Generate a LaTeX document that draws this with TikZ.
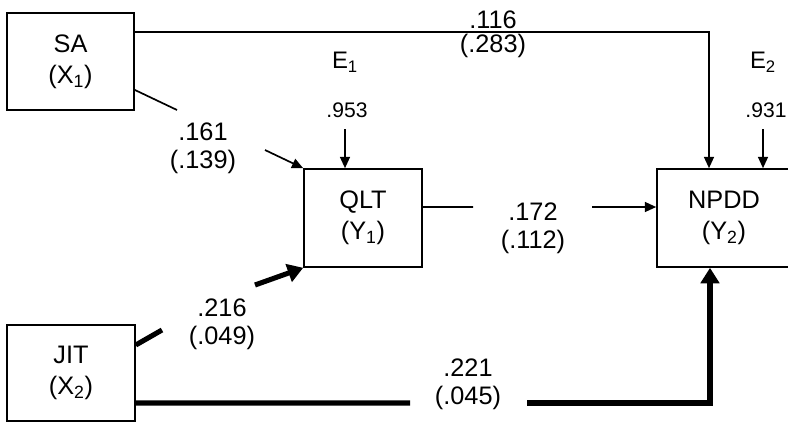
\documentclass[tikz,border=0pt]{standalone}
\usepackage{fontspec}
\setmainfont{Liberation Sans}
\usetikzlibrary{arrows.meta,positioning}

\begin{document}
\begin{tikzpicture}[x=0.025cm, y=-0.025cm,
        box style/.style={draw, line width=1.1pt, align=center,
            font=\fontsize{18}{22}\selectfont, inner sep=0pt},
        coef/.style={align=center, font=\fontsize{18}{20}\selectfont, inner sep=1pt},
        err/.style={font=\fontsize{15}{17}\selectfont, inner sep=1pt},
        path thin/.style={line width=1.2pt},
        flow/.style={-{Triangle[length=8pt,width=7pt]}, line width=1.2pt},
        path thick/.style={line width=3.6pt},
        flow thick/.style={-{Triangle[length=11pt,width=13pt]}, line width=3.6pt},
    ]
        \useasboundingbox (0,0) rectangle (788,422);

        % Variables
        \node[box style, minimum width=3.175cm, minimum height=2.425cm] (SA) at (70.5,61.5) {SA\\(X\textsubscript{1})};
        \node[box style, minimum width=3.2cm, minimum height=2.4cm] (JIT) at (71,373) {JIT\\(X\textsubscript{2})};
        \node[box style, minimum width=2.95cm, minimum height=2.45cm] (QLT) at (363,218) {QLT\\(Y\textsubscript{1})};
        \node[box style, minimum width=3.35cm, minimum height=2.45cm] (NPDD) at (724,218) {NPDD\\(Y\textsubscript{2})};

        % Error terms
        \node[err, font=\fontsize{17}{19}\selectfont] (e1) at (345,62) {E\textsubscript{1}};
        \node[err] (w1) at (347,110) {.953};
        \node[err, font=\fontsize{17}{19}\selectfont] (e2) at (763,62) {E\textsubscript{2}};
        \node[err] (w2) at (766,110) {.931};

        % Path coefficients
        \node[coef, anchor=south, inner sep=0pt] (saNpdd) at (493,29) {.116};
        \node[coef, anchor=north, inner sep=0pt] (saNpddSe) at (493,34) {(.283)};
        \node[coef] (saQlt) at (203,148) {.161\\(.139)};
        \node[coef] (qltNpdd) at (533,228) {.172\\(.112)};
        \node[coef] (jitQlt) at (222,324) {.216\\(.049)};
        \node[coef] (jitNpdd) at (468,384) {.221\\(.045)};

        % Gaps around the coefficients
        \coordinate (saQltA) at (177,110);
        \coordinate (saQltB) at (265,150);
        \coordinate (qnA) at (473,207);
        \coordinate (qnB) at (592,207);
        \coordinate (jqA) at (162,330);
        \coordinate (jqB) at (255,285);
        \coordinate (jnA) at (410,403);
        \coordinate (jnB) at (527,403);

        % Thin paths
        \draw[flow] ([yshift=0.7375cm]SA.east) -| ([xshift=-0.375cm]NPDD.north);
        \draw[path thin] ([yshift=-0.71cm]SA.east) -- (saQltA);
        \draw[flow] (saQltB) -- (QLT.north west);
        \draw[path thin] ([yshift=0.275cm]QLT.east) -- (qnA);
        \draw[flow] (qnB) -- (NPDD.west |- qnB);
        \draw[flow, shorten <=2.5mm] (w1.south -| e1) -- (QLT.north -| e1);
        \draw[flow, shorten <=2.5mm] (w2.south -| e2) -- (NPDD.north -| e2);

        % Thick paths
        \draw[path thick] ([yshift=0.7cm]JIT.east) -- (jqA);
        \draw[flow thick] (jqB) -- (QLT.south west);
        \draw[path thick] ([yshift=-0.75cm]JIT.east) -- (jnA);
        \draw[flow thick] (jnB) -| ([xshift=-0.35cm]NPDD.south);
    \end{tikzpicture}
\end{document}
